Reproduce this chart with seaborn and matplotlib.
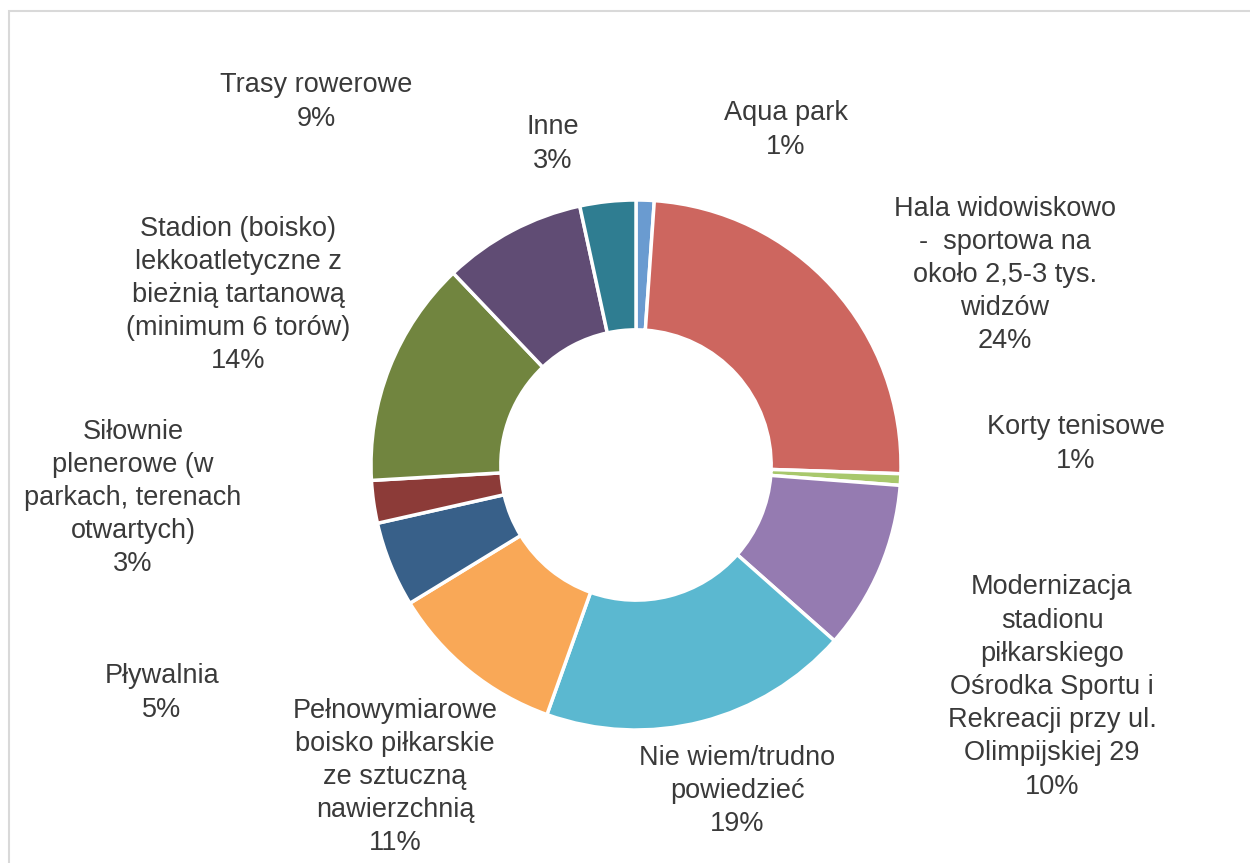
import matplotlib
matplotlib.use("Agg")
import matplotlib.pyplot as plt
from matplotlib.patches import Rectangle
import seaborn as sns

# slice values (percent), clockwise from 12 o'clock
categories = [
    "Aqua park",
    "Hala widowiskowo\n-  sportowa na\nokoło 2,5-3 tys.\nwidzów",
    "Korty tenisowe",
    "Modernizacja\nstadionu\npiłkarskiego\nOśrodka Sportu i\nRekreacji przy ul.\nOlimpijskiej 29",
    "Nie wiem/trudno\npowiedzieć",
    "Pełnowymiarowe\nboisko piłkarskie\nze sztuczną\nnawierzchnią",
    "Pływalnia",
    "Siłownie\nplenerowe (w\nparkach, terenach\notwartych)",
    "Stadion (boisko)\nlekkoatletyczne z\nbieżnią tartanową\n(minimum 6 torów)",
    "Trasy rowerowe",
    "Inne",
]
values = [1.1, 24.4, 0.7, 10.3, 18.9, 10.8, 5.2, 2.6, 13.8, 8.7, 3.4]
pct_labels = ["1%", "24%", "1%", "10%", "19%", "11%", "5%", "3%", "14%", "9%", "3%"]

colors = ["#6A9BD0", "#CD665F", "#A8C86C", "#957BB1", "#5BB8D0", "#F9A857",
          "#386089", "#8C3B38", "#71853F", "#604C74", "#2F7D91"]

# label block centres in figure pixels (x, y from top)
label_pos = [(786, 130), (1005, 275), (1076, 444), (1052, 687), (737, 791),
             (395, 777), (162, 693), (133, 498), (238, 295), (316, 102), (553, 144)]

W, H = 1250, 863
sns.set_theme(style="white")
plt.rcParams["font.family"] = ["Liberation Sans", "DejaVu Sans"]

fig = plt.figure(figsize=(W / 100, H / 100), dpi=100)
fig.patch.set_facecolor("white")

# outer frame of the chart area
fig.add_artist(Rectangle((8.5 / W, -0.1), 1.2, 1 - 11.5 / H + 0.1,
                         transform=fig.transFigure, fill=False,
                         edgecolor="#D9D9D9", linewidth=1.5))

cx, cy, r = 636, 465, 265
ax = fig.add_axes([(cx - r) / W, 1 - (cy + r) / H, 2 * r / W, 2 * r / H])
ax.pie(values, colors=sns.color_palette(colors), startangle=90, counterclock=False,
       radius=1, wedgeprops=dict(width=0.49, edgecolor="white", linewidth=2.5))
ax.set_xlim(-1, 1)
ax.set_ylim(-1, 1)
ax.set_aspect("equal")
ax.axis("off")

for cat, pct, (px, py) in zip(categories, pct_labels, label_pos):
    fig.text(px / W, 1 - py / H, cat + "\n" + pct, ha="center", va="center",
             fontsize=19.5, color="#3A3A3A", linespacing=1.36)

fig.savefig("out.png", dpi=100)
